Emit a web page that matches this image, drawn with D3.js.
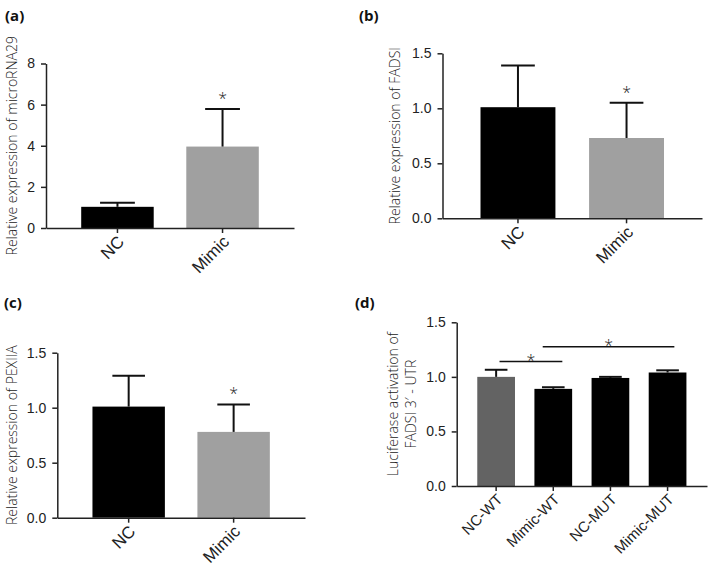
<!DOCTYPE html>
<html><head><meta charset="utf-8">
<script src="https://cdn.jsdelivr.net/npm/d3@7"></script>
<style>
body{margin:0;background:#fff;}
svg{display:block;font-family:"Open Sans",sans-serif;}
.lbl{font-weight:300;fill:#222;font-size:14px;}
.title{font-weight:700;font-size:15px;fill:#111;}
</style></head><body>
<svg id="c" width="709" height="566"></svg>
<script>
// ---- data ----
const catsA = ["NC", "Mimic"];
const valsA = [1.03, 3.96];
const errA  = [0.20, 1.83];
const ticksA = [0, 2, 4, 6, 8];
const starsA = ["Mimic"];

const catsB = ["NC", "Mimic"];
const valsB = [1.01, 0.73];
const errB  = [0.38, 0.32];
const ticksB = [0, 0.5, 1.0, 1.5];
const starsB = ["Mimic"];

const catsC = ["NC", "Mimic"];
const valsC = [1.01, 0.78];
const errC  = [0.28, 0.25];
const ticksC = [0, 0.5, 1.0, 1.5];
const starsC = ["Mimic"];

const catsD = ["NC-WT", "Mimic-WT", "NC-MUT", "Mimic-MUT"];
const valsD = [1.00, 0.89, 0.99, 1.04];
const errD  = [0.065, 0.015, 0.01, 0.02];
const ticksD = [0, 0.5, 1.0, 1.5];
const sigD = [
  {from: "NC-WT", to: "Mimic-WT", y: 1.14},
  {from: "Mimic-WT", to: "Mimic-MUT", y: 1.275}
];

const svg = d3.select("#c");

function panel(o) {
  const g = svg.append("g");
  const x = d3.scaleBand().domain(o.cats).range([o.x0, o.x1])
    .paddingInner(o.pi).paddingOuter(o.po);
  const y = d3.scaleLinear().domain([0, o.ymax]).range([o.y0, o.y1]);
  const bw = x.bandwidth();
  // bars
  g.selectAll("rect.bar").data(o.cats).join("rect")
    .attr("x", d => x(d)).attr("width", bw)
    .attr("y", (d, i) => y(o.vals[i]))
    .attr("height", (d, i) => y(0) - y(o.vals[i]))
    .attr("fill", (d, i) => o.colors[i]);
  // error bars
  const cw = bw * o.capFrac;
  o.cats.forEach((d, i) => {
    const cx = x(d) + bw / 2;
    g.append("line").attr("x1", cx).attr("x2", cx)
      .attr("y1", y(o.vals[i])).attr("y2", y(o.vals[i] + o.errs[i]))
      .attr("stroke", "#111").attr("stroke-width", 2);
    g.append("line").attr("x1", cx - cw / 2).attr("x2", cx + cw / 2)
      .attr("y1", y(o.vals[i] + o.errs[i])).attr("y2", y(o.vals[i] + o.errs[i]))
      .attr("stroke", "#111").attr("stroke-width", 2);
  });
  // stars
  (o.stars || []).forEach(s => {
    const i = o.cats.indexOf(s);
    g.append("text").attr("class", "lbl").attr("text-anchor", "middle")
      .style("font-size", "16px")
      .attr("x", x(s) + bw / 2).attr("y", y(o.vals[i] + o.errs[i]) - 5)
      .text("*");
  });
  // significance lines
  (o.sig || []).forEach(s => {
    const xa = x(s.from) + bw / 2 + bw * s.fa, xb = x(s.to) + bw / 2 + bw * s.fb;
    g.append("line").attr("x1", xa).attr("x2", xb)
      .attr("y1", y(s.y)).attr("y2", y(s.y))
      .attr("stroke", "#111").attr("stroke-width", 1.5);
    g.append("text").attr("class", "lbl").attr("text-anchor", "middle")
      .style("font-size", "16px")
      .attr("x", (xa + xb) / 2).attr("y", y(s.y) + 4).text("*");
  });
  // y axis
  const ya = g.append("g").attr("transform", `translate(${o.x0},0)`)
    .call(d3.axisLeft(y).tickValues(o.ticks).tickFormat(d3.format(o.fmt))
      .tickSize(5).tickSizeOuter(0).tickPadding(6));
  // x axis
  const xa = g.append("g").attr("transform", `translate(0,${o.y0})`)
    .call(d3.axisBottom(x).tickSize(5).tickSizeOuter(0));
  xa.selectAll("text").attr("class", "lbl").style("font-size", o.xfs + "px")
    .attr("x", -5).attr("y", 10).attr("dy", "0.35em")
    .attr("transform", "rotate(-45)").style("text-anchor", "end");
  [ya, xa].forEach(a => {
    a.select(".domain").attr("stroke", "#222").attr("stroke-width", 1.5);
    a.selectAll(".tick line").attr("stroke", "#222").attr("stroke-width", 1.5);
  });
  ya.selectAll("text").attr("class", "lbl");
  // y label
  const yl = g.append("text").attr("class", "lbl").attr("text-anchor", "middle")
    .attr("transform", `translate(${o.ylx},${(o.y0 + o.y1) / 2}) rotate(-90)`);
  o.ylab.forEach((t, k) => {
    yl.append("tspan").attr("x", 0).attr("dy", k === 0 ? 0 : "1.3em").text(t);
  });
  // panel title
  g.append("text").attr("class", "title").attr("x", o.tx).attr("y", o.ty).text(o.title);
}

panel({cats: catsA, vals: valsA, errs: errA, ticks: ticksA, stars: starsA, fmt: "d",
  ymax: 8, x0: 46, x1: 294, y0: 228, y1: 63.5, pi: 0.31, po: 0.335,
  colors: ["#000", "#a0a0a0"], capFrac: 0.48, xfs: 17,
  ylab: ["Relative expression of microRNA29"], ylx: 17, title: "(a)", tx: 5, ty: 21});

panel({cats: catsB, vals: valsB, errs: errB, ticks: ticksB, stars: starsB, fmt: ".1f",
  ymax: 1.5, x0: 442.5, x1: 702, y0: 218.3, y1: 53.3, pi: 0.31, po: 0.35,
  colors: ["#000", "#a0a0a0"], capFrac: 0.45, xfs: 17,
  ylab: ["Relative expression of FADSI"], ylx: 400, title: "(b)", tx: 359, ty: 21});

panel({cats: catsC, vals: valsC, errs: errC, ticks: ticksC, stars: starsC, fmt: ".1f",
  ymax: 1.5, x0: 57.3, x1: 305, y0: 517.7, y1: 352.7, pi: 0.31, po: 0.335,
  colors: ["#000", "#a0a0a0"], capFrac: 0.45, xfs: 17,
  ylab: ["Relative expression of PEXIIA"], ylx: 17, title: "(c)", tx: 4, ty: 308});

panel({cats: catsD, vals: valsD, errs: errD, ticks: ticksD, fmt: ".1f",
  sig: [Object.assign({}, sigD[0], {fa: 0.09, fb: 0.24}), Object.assign({}, sigD[1], {fa: -0.28, fb: 0.18})],
  ymax: 1.5, x0: 456.7, x1: 707, y0: 486, y1: 322.3, pi: 0.34, po: 0.36,
  colors: ["#636363", "#000"], capFrac: 0.6, xfs: 15,
  ylab: ["Luciferase activation of", "FADSI 3\u2032 - UTR"], ylx: 398, title: "(d)", tx: 355, ty: 308});
</script></body></html>
